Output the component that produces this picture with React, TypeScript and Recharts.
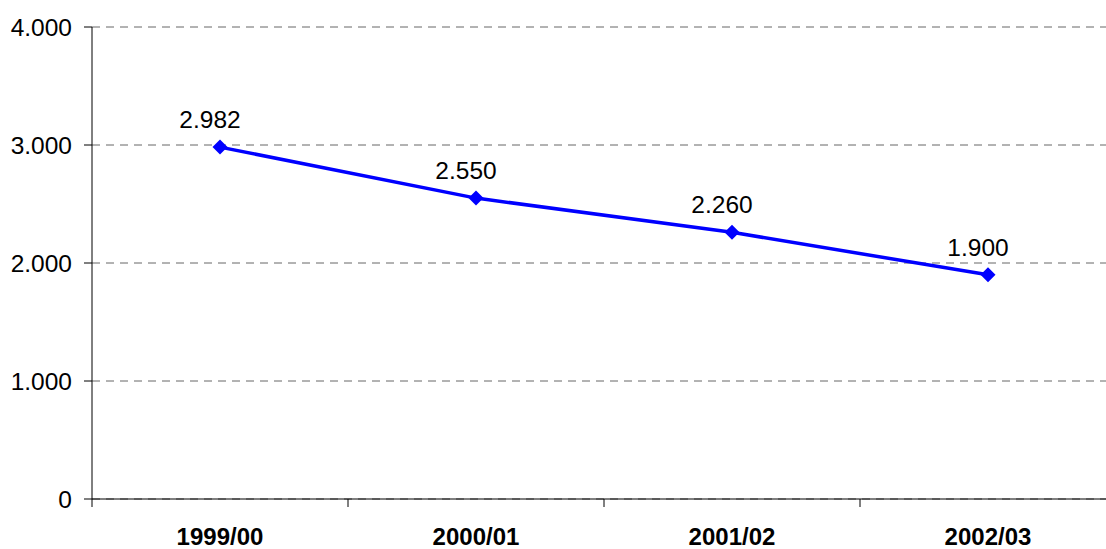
import React from 'react';
import { LineChart, Line, XAxis, YAxis, CartesianGrid, LabelList } from 'recharts';

const seasons = ['1999/00', '2000/01', '2001/02', '2002/03'];
const values = [2982, 2550, 2260, 1900];
const yTicks = [0, 1000, 2000, 3000, 4000];

const data = seasons.map((season, i) => ({ season, value: values[i] }));

const FONT = '"Liberation Sans", Arial, Helvetica, sans-serif';

// thousands separator with a dot, like 2.982
const fmt = (v: number) => String(v).replace(/\B(?=(\d{3})+(?!\d))/g, '.');

const CHART_W = 1116;
const CHART_H = 549;
const LEFT = 92;
const BAND = (CHART_W - LEFT) / seasons.length;

const XTick = (props: any) => {
  const { x, y, payload } = props;
  return (
    <g>
      <line x1={x - BAND / 2} y1={y} x2={x - BAND / 2} y2={y + 8} stroke="#000" />
      <text x={x} y={y + 46} textAnchor="middle" fontFamily={FONT} fontSize={24} fontWeight="bold" fill="#000">
        {payload.value}
      </text>
    </g>
  );
};

const YTick = (props: any) => {
  const { x, y, payload } = props;
  return (
    <text x={x - 12} y={y + 9} textAnchor="end" fontFamily={FONT} fontSize={24.5} fill="#000">
      {fmt(payload.value)}
    </text>
  );
};

const Diamond = (props: any) => {
  const { cx, cy } = props;
  if (cx == null || cy == null) return null;
  const r = 7.5;
  return <polygon points={`${cx},${cy - r} ${cx + r},${cy} ${cx},${cy + r} ${cx - r},${cy}`} fill="#0000FF" />;
};

const ValueLabel = (props: any) => {
  const { x, y, value } = props;
  return (
    <text x={x - 10} y={y - 19} textAnchor="middle" fontFamily={FONT} fontSize={24.5} fill="#000">
      {fmt(value)}
    </text>
  );
};

export default function App() {
  return (
    <div style={{ position: 'absolute', left: 0, top: 0, width: 1106, height: 549, overflow: 'hidden', background: '#fff' }}>
      <LineChart width={CHART_W} height={CHART_H} data={data} margin={{ top: 27, right: 0, left: 0, bottom: 0 }}>
        <CartesianGrid horizontal vertical={false} stroke="#666" strokeDasharray="8 6" />
        <XAxis
          dataKey="season"
          height={50}
          padding={{ left: BAND / 2, right: BAND / 2 }}
          axisLine={{ stroke: '#000' }}
          tickLine={false}
          tickSize={0}
          tickMargin={0}
          tick={<XTick />}
          interval={0}
        />
        <YAxis
          width={LEFT}
          domain={[0, 4000]}
          ticks={yTicks}
          axisLine={{ stroke: '#000' }}
          tickLine={{ stroke: '#000' }}
          tickSize={8}
          tickMargin={0}
          tick={<YTick />}
        />
        <Line
          type="linear"
          dataKey="value"
          stroke="#0000FF"
          strokeWidth={3.5}
          dot={<Diamond />}
          activeDot={false}
          isAnimationActive={false}
        >
          <LabelList dataKey="value" content={<ValueLabel />} />
        </Line>
      </LineChart>
    </div>
  );
}
